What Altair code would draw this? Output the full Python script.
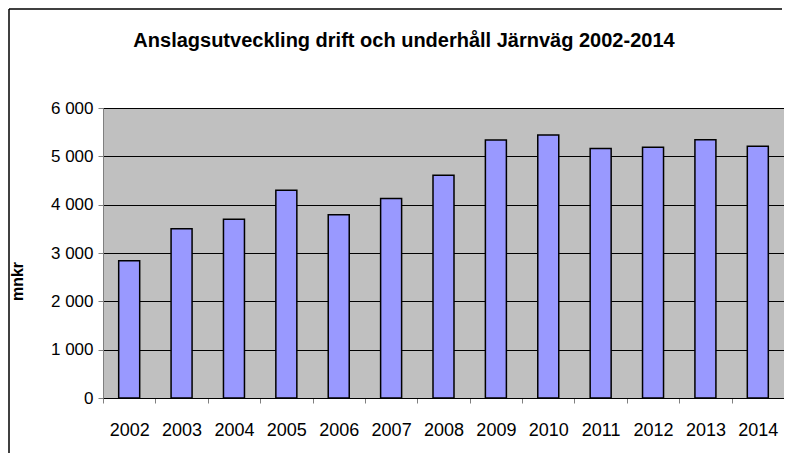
import altair as alt
import pandas as pd

years = ["2002", "2003", "2004", "2005", "2006", "2007", "2008",
         "2009", "2010", "2011", "2012", "2013", "2014"]
values = [2840, 3500, 3700, 4300, 3790, 4130, 4610,
          5340, 5440, 5160, 5190, 5345, 5210]

title_text = "Anslagsutveckling drift och underhåll Järnväg 2002-2014"
y_title = "mnkr"

df = pd.DataFrame({"year": years, "value": values})
title_df = pd.DataFrame({"t": [title_text]})

FONT = "Liberation Sans"

bars = alt.Chart(df).mark_bar(
    size=21, color="#9999FF", stroke="#000000", strokeWidth=1.5
).encode(
    x=alt.X("year:N", sort=years,
            scale=alt.Scale(paddingInner=0, paddingOuter=0),
            axis=alt.Axis(title=None, labelAngle=0, tickBand="extent",
                          labelFontSize=18, labelFont=FONT, labelColor="#000000",
                          labelPadding=18, tickSize=5, tickColor="#808080",
                          domainColor="#000000", grid=False)),
    y=alt.Y("value:Q",
            scale=alt.Scale(domain=[0, 6000], nice=False),
            axis=alt.Axis(values=[0, 1000, 2000, 3000, 4000, 5000, 6000],
                          labelExpr="replace(format(datum.value, ','), ',', ' ')",
                          labelFontSize=17, labelFont=FONT, labelColor="#000000",
                          labelPadding=5, tickSize=5, tickColor="#808080",
                          domainColor="#808080",
                          grid=True, gridColor="#000000", gridWidth=1, gridOpacity=1,
                          title=y_title, titleFont=FONT, titleFontSize=16,
                          titleFontWeight="bold", titleColor="#000000",
                          titleAngle=270, titleX=-86, titleY=173,
                          titleAlign="center", titleBaseline="middle")),
)

title_mark = alt.Chart(title_df).mark_text(
    font=FONT, fontSize=20, fontWeight="bold", color="#000000",
    align="center", baseline="alphabetic", clip=False
).encode(
    text="t:N", x=alt.value(301), y=alt.value(-61)
)

frame_left = alt.Chart(title_df).mark_rule(color="#000000", strokeWidth=1.5, clip=False).encode(
    x=alt.value(-94), y=alt.value(-99), y2=alt.value(345)
)
frame_top = alt.Chart(title_df).mark_rule(color="#000000", strokeWidth=1.5, clip=False).encode(
    y=alt.value(-99), x=alt.value(-94), x2=alt.value(679)
)

chart = alt.layer(bars, title_mark, frame_left, frame_top).properties(
    width=681, height=290,
    autosize=alt.AutoSizeParams(type="none"),
    padding={"left": 95, "top": 100, "right": 0, "bottom": 57},
    background="#FFFFFF",
).configure_view(
    fill="#C0C0C0", stroke="#808080", strokeWidth=1
)

chart.save("out.html", embed_options={"renderer": "svg", "actions": False})
